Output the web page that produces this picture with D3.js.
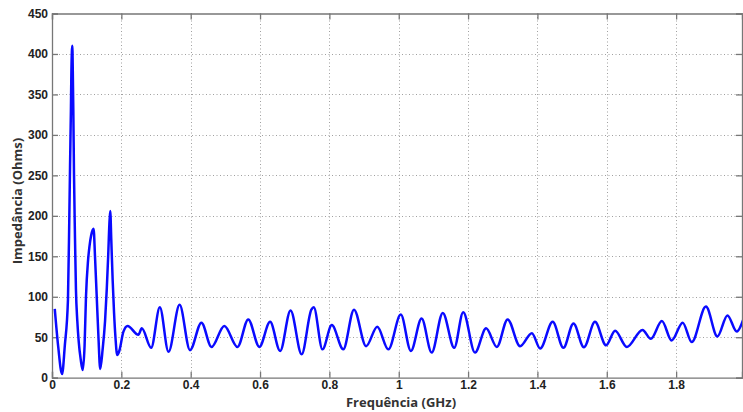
<!DOCTYPE html>
<html><head><meta charset="utf-8">
<script src="https://cdn.jsdelivr.net/npm/d3@7"></script>
<style>body{margin:0;background:#fff}svg{display:block}</style>
</head><body>
<svg id="c" width="743" height="412"></svg>
<script>
const freq = [0.008,0.018,0.029,0.037,0.046,0.050,0.052,0.0545,0.056,0.0586,0.060,0.0615,0.0635,0.066,0.069,0.073,0.077,0.083,0.0885,
0.094,0.098,0.104,0.108,0.113,0.120,0.124,0.129,0.134,0.139,
0.146,0.153,0.158,0.162,0.1655,0.168,0.171,0.175,0.179,0.183,0.188,0.194,0.206,0.218,0.249,0.259,0.286,0.311,0.336,0.368,0.398,
0.431,0.460,0.497,0.535,0.566,0.598,0.629,0.658,0.688,0.720,0.748,0.755,0.780,0.807,0.840,0.871,0.906,0.938,0.970,
1.006,1.035,1.066,1.095,1.127,1.160,1.186,1.220,1.252,1.283,1.314,1.350,1.384,1.408,1.444,1.475,1.504,1.534,1.566,1.598,
1.624,1.658,1.703,1.727,1.759,1.787,1.819,1.845,1.886,1.919,1.948,1.975,1.993];
const imp = [85,38,4.5,40,96,200,260,330,380,410,378,330,250,180,110,70,45,22,9.5,
40,100,145,162,176,184,150,100,50,10.7,
35,70,110,150,190,206,170,120,80,50,28,33,57,64,53,61,37,87,32,90,34,
68,38,64,38,72,38,69,33,83,29,84,87,35,65,35,84,39,63,35,
78,33,73,31,80,37,81,31,61,38,72,39,55,36,69,37,67,37.5,69,40,
58,38,59,48,70,46,68,44,88,51,77,57,71];
const xTicks = [0,0.2,0.4,0.6,0.8,1,1.2,1.4,1.6,1.8];
const yTicks = [0,50,100,150,200,250,300,350,400,450];
const xTitle = "Frequência (GHz)";
const yTitle = "Impedância (Ohms)";

const L=52,R=742,T=13.5,B=377.7;
const svg=d3.select("#c");
const x=d3.scaleLinear().domain([0,1.99]).range([L,R]);
const y=d3.scaleLinear().domain([0,450]).range([B,T]);
const font="'Liberation Sans', Arial, sans-serif";

// grid
const grid=svg.append("g").attr("stroke","#a0a0a0").attr("stroke-width",1).attr("stroke-dasharray","1,2.5");
grid.selectAll(".gx").data(xTicks.filter(d=>d>0)).join("line")
  .attr("x1",d=>Math.round(x(d))+0.5).attr("x2",d=>Math.round(x(d))+0.5).attr("y1",T).attr("y2",B);
grid.selectAll(".gy").data(yTicks.filter(d=>d>0&&d<450)).join("line")
  .attr("y1",d=>Math.round(y(d))+0.5).attr("y2",d=>Math.round(y(d))+0.5).attr("x1",L).attr("x2",R);

// axes
const ax=svg.append("g").attr("transform",`translate(0,${B})`)
  .call(d3.axisBottom(x).tickValues(xTicks).tickSize(-6).tickPadding(3).tickFormat(d=>String(+d.toFixed(1))));
const ay=svg.append("g").attr("transform",`translate(${L},0)`)
  .call(d3.axisLeft(y).tickValues(yTicks).tickSize(-6).tickPadding(4));
const axt=svg.append("g").attr("transform",`translate(0,${T})`)
  .call(d3.axisTop(x).tickValues(xTicks).tickSize(-6).tickFormat(""));
const ayr=svg.append("g").attr("transform",`translate(${R},0)`)
  .call(d3.axisRight(y).tickValues(yTicks).tickSize(-6).tickFormat(""));
[ax,ay,axt,ayr].forEach(g=>{
  g.selectAll("path").attr("stroke","#777").attr("stroke-width",1.3);
  g.selectAll("line").attr("stroke","#777").attr("stroke-width",1.3);
  g.selectAll("text").attr("font-family",font).attr("font-size",12).attr("font-weight","bold").attr("fill","#222");
});

// line
svg.append("clipPath").attr("id","clip").append("rect").attr("x",L).attr("y",T).attr("width",R-L).attr("height",B-T);
const pts=freq.map((f,i)=>[f,imp[i]]);
svg.append("path").datum(pts).attr("clip-path","url(#clip)")
  .attr("fill","none").attr("stroke","#0a0aff").attr("stroke-width",2.5).attr("stroke-linejoin","round")
  .attr("d",d3.line().x(d=>x(d[0])).y(d=>y(d[1])).curve(d3.curveMonotoneX));

// titles
svg.append("text").attr("x",401).attr("y",407).attr("text-anchor","middle")
  .attr("font-family","'Open Sans', sans-serif").attr("font-weight","bold").attr("font-size",13).attr("fill","#333").text(xTitle);
svg.append("text").attr("transform","translate(22,201) rotate(-90)").attr("text-anchor","middle")
  .attr("font-family","'Open Sans', sans-serif").attr("font-weight","bold").attr("font-size",13).attr("fill","#333").text(yTitle);
</script>
</body></html>
